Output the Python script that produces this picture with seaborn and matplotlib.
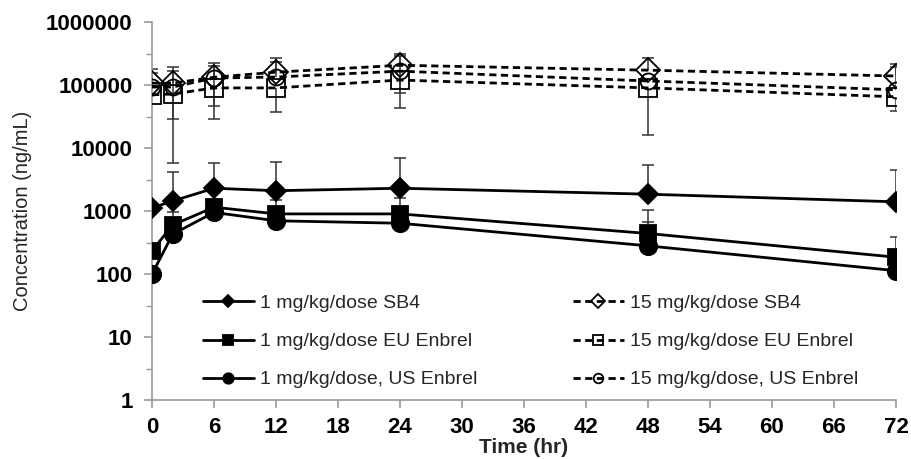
import matplotlib
matplotlib.use('Agg')
from matplotlib import pyplot as plt
from matplotlib.ticker import FixedLocator
import numpy as np
import seaborn as sns

nan = np.nan

time_hr = [0, 2, 6, 12, 24, 48, 72]

# mean serum concentration (ng/mL)
sb4_1 = [1120, 1440, 2300, 2100, 2300, 1850, 1400]
eu_1 = [235, 600, 1150, 900, 900, 440, 185]
us_1 = [100, 430, 950, 700, 640, 280, 113]
sb4_15 = [107000, 107000, 133000, 160000, 206000, 172000, 139000]
eu_15 = [70000, 72000, 90000, 90000, 120000, 90000, 65000]
us_15 = [93000, 93000, 129000, 134000, 166000, 116000, 84000]

# ends of the SD bars that can be seen (nan = hidden)
sb4_1_hi = [nan, 4100, 5700, 6000, 7000, 5400, 4400]
eu_1_hi = [nan, 980, 1500, 1500, 1600, 1050, 380]
us_1_hi = [nan, nan, nan, nan, nan, 670, nan]
sb4_15_hi = [178000, 190000, 220000, 265000, 310000, 265000, 215000]
us_15_hi = [155000, 165000, 200000, 230000, 290000, nan, 190000]
eu_15_lo = [nan, 5700, 29000, 37000, 43000, 16000, 39000]
us_15_lo = [nan, 29000, 47000, nan, 75000, nan, nan]

labels = ['1 mg/kg/dose SB4', '1 mg/kg/dose EU Enbrel', '1 mg/kg/dose, US Enbrel',
          '15 mg/kg/dose SB4', '15 mg/kg/dose EU Enbrel', '15 mg/kg/dose, US Enbrel']
y_ticks = [1, 10, 100, 1000, 10000, 100000, 1000000]
y_ticklabels = ['1', '10', '100', '1000', '10000', '100000', '1000000']
x_ticks = list(range(0, 73, 6))

sns.set_style('ticks')
plt.rcParams['font.family'] = ['Liberation Sans', 'DejaVu Sans']

fig = plt.figure(figsize=(9.11, 4.59), dpi=100)
ax = fig.add_axes([0.1669, 0.1285, 0.8166, 0.8235])

# error bars first, underneath the lines
bars = [(sb4_1, sb4_1_hi), (eu_1, eu_1_hi), (us_1, us_1_hi),
        (sb4_15, sb4_15_hi), (us_15, us_15_hi), (eu_15, eu_15_lo), (us_15, us_15_lo)]
for mean, end in bars:
    t = [x for x, e in zip(time_hr, end) if not np.isnan(e)]
    m = [v for v, e in zip(mean, end) if not np.isnan(e)]
    e = [e for e in end if not np.isnan(e)]
    ax.vlines(t, m, e, color='#333333', lw=1.1, zorder=1)
    ax.plot(t, e, ls='none', marker='_', ms=9, mew=1.1, color='#333333', zorder=1)

styles = [('D', 'black', '-', 10.5), ('s', 'black', '-', 11.5), ('o', 'black', '-', 12.5),
          ('D', 'none', '--', 12), ('s', 'none', '--', 12.5), ('o', 'none', '--', 11.5)]
for vals, lab, (mk, fc, ls, ms) in zip([sb4_1, eu_1, us_1, sb4_15, eu_15, us_15], labels, styles):
    line = sns.lineplot(x=time_hr, y=vals, ax=ax, color='black', marker=mk, markersize=ms,
                        markerfacecolor=fc, markeredgecolor='black', markeredgewidth=1.3,
                        linestyle=ls, lw=2.0, label=lab, zorder=3).lines[-1]
    if ls == '--':
        line.set_dashes((2.6, 1.6))

ax.set_yscale('log')
ax.set_ylim(1, 1000000)
ax.set_xlim(0, 72)
ax.yaxis.set_major_locator(FixedLocator(y_ticks))
ax.set_yticklabels(y_ticklabels)
ax.yaxis.set_minor_locator(FixedLocator([3.16 * v for v in y_ticks[:-1]]))
ax.yaxis.set_minor_formatter(plt.NullFormatter())
ax.set_xticks(x_ticks)

for s in ['top', 'right']:
    ax.spines[s].set_visible(False)
for s in ['left', 'bottom']:
    ax.spines[s].set_color('#999999')
    ax.spines[s].set_linewidth(1.2)
ax.tick_params(axis='both', which='major', colors='#999999', length=6, width=1.2,
               labelcolor='black', labelsize=16, pad=8)
ax.tick_params(axis='x', which='major', pad=6)
ax.tick_params(axis='y', which='minor', colors='#999999', length=4, width=1.0)
for lbl in ax.get_xticklabels() + ax.get_yticklabels():
    lbl.set_fontweight('bold')

ax.set_xlabel('Time (hr)', fontsize=15, fontweight='bold', labelpad=0)
ax.set_ylabel('Concentration (ng/mL)', fontsize=14.5, labelpad=10)

ax.legend(loc='upper left', bbox_to_anchor=(0.045, 0.325), ncol=2, frameon=False,
          fontsize=14, handlelength=2.6, labelspacing=1.05, columnspacing=4.9,
          markerscale=0.6, handletextpad=0.35)

fig.savefig('out.png', dpi=100)
